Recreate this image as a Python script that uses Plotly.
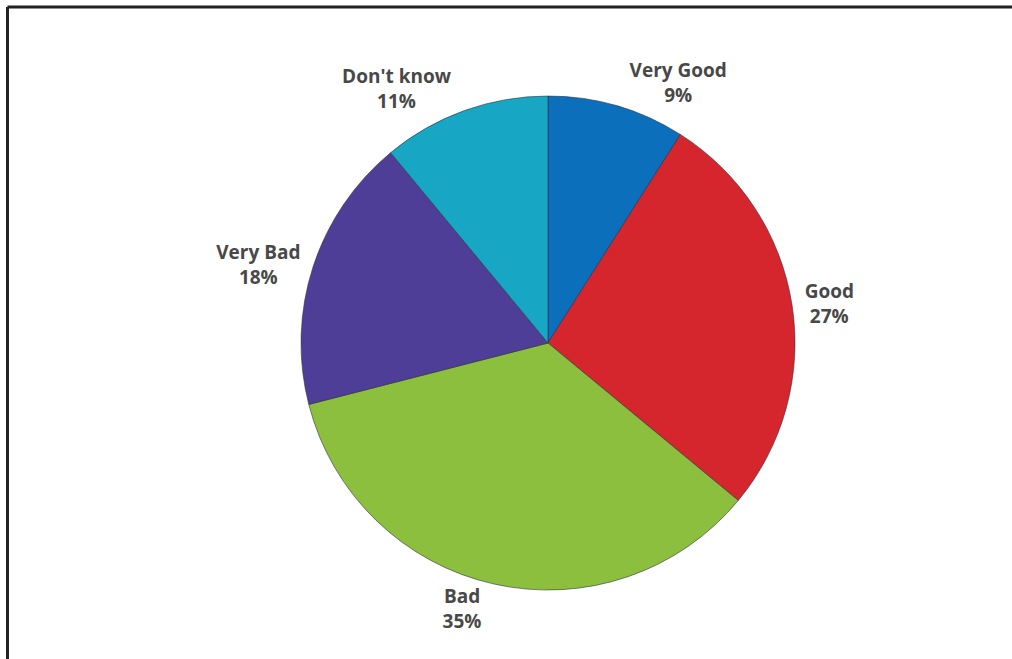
import plotly.graph_objects as go

categories = ["Very Good", "Good", "Bad", "Very Bad", "Don't know"]
values = [9, 27, 35, 18, 11]
colors = ["#0b6fbb", "#d4262c", "#8dbf3f", "#4e3e98", "#17a6c3"]

fig = go.Figure(go.Pie(
    labels=categories,
    values=values,
    sort=False,
    direction="clockwise",
    rotation=0,
    marker=dict(colors=colors, line=dict(color="rgba(40,40,60,0.55)", width=1)),
    textposition="outside",
    texttemplate="%{label}<br>%{value}%",
    textfont=dict(family="Open Sans", size=19, color="#484848", weight="bold"),
    hoverinfo="label+percent",
    showlegend=False,
    domain=dict(x=[0.2974, 0.7856], y=[0.1047, 0.8543]),
))

fig.update_layout(
    width=1012, height=659,
    margin=dict(l=0, r=0, t=0, b=0),
    paper_bgcolor="white",
    plot_bgcolor="white",
    shapes=[
        dict(type="line", xref="paper", yref="paper", x0=0.0074, x1=1.01, y0=0.9894, y1=0.9894,
             line=dict(color="#222222", width=3)),
        dict(type="line", xref="paper", yref="paper", x0=0.0074, x1=0.0074, y0=-0.01, y1=0.9894,
             line=dict(color="#222222", width=3)),
    ],
)

fig.write_html("out.html", config={"displayModeBar": False},
               post_script="document.body.style.margin='0';document.body.style.overflow='hidden';")
